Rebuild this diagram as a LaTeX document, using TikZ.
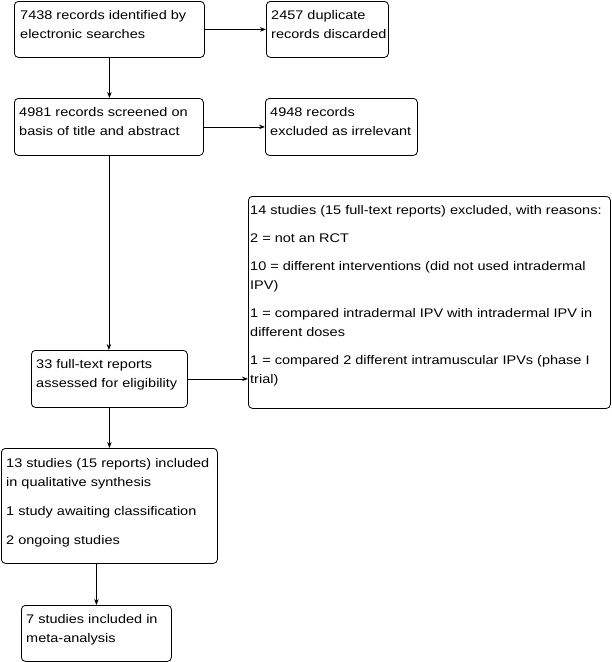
\documentclass[tikz,border=0pt]{standalone}
\usepackage{fontspec}
\setmainfont{Liberation Sans}[FakeStretch=1.16]
\usetikzlibrary{arrows.meta,calc}
\begin{document}
\begin{tikzpicture}[x=1pt,y=-1pt,
 box/.style={draw, rounded corners=4pt, line width=0.8pt, anchor=north west, inner sep=0pt},
 txt/.style={anchor=north west, align=left, inner sep=0pt, font=\fontsize{12.5}{19}\selectfont},
 arr/.style={-{Stealth[length=6pt,width=4.5pt]}, line width=0.8pt}]
\useasboundingbox (0,0) rectangle (612,662);
\node[box, minimum width=190pt, minimum height=56pt] (b1) at (14,1) {};
\node[box, minimum width=122pt, minimum height=56pt] (b2) at (266,1) {};
\node[box, minimum width=189pt, minimum height=57pt] (b3) at (14,98) {};
\node[box, minimum width=152pt, minimum height=57pt] (b4) at (265,98) {};
\node[box, minimum width=362pt, minimum height=212pt] (b5) at (248,196) {};
\node[box, minimum width=156pt, minimum height=57pt] (b6) at (31,350) {};
\node[box, minimum width=216pt, minimum height=115pt] (b7) at (1,448) {};
\node[box, minimum width=150pt, minimum height=56pt] (b8) at (21,605) {};

\node[txt] (t1) at ($(b1.north west)+(6,9)$) {7438 records identified by\\electronic searches};
\node[txt] (t2) at ($(b2.north west)+(5,9)$) {2457 duplicate\\records discarded};
\node[txt] (t3) at ($(b3.north west)+(5,9)$) {4981 records screened on\\basis of title and abstract};
\node[txt] (t4) at ($(b4.north west)+(5,9)$) {4948 records\\excluded as irrelevant};
\node[txt] (t5) at ($(b5.north west)+(2,9)$) {14 studies (15 full-text reports) excluded, with reasons:\\[9pt]
2 = not an RCT\\[9pt]
10 = different interventions (did not used intradermal\\IPV)\\[9pt]
1 = compared intradermal IPV with intradermal IPV in\\different doses\\[9pt]
1 = compared 2 different intramuscular IPVs (phase I\\trial)};
\node[txt] (t6) at ($(b6.north west)+(5,9)$) {33 full-text reports\\assessed for eligibility};
\node[txt] (t7) at ($(b7.north west)+(5,10)$) {13 studies (15 reports) included\\in qualitative synthesis\\[10pt]
1 study awaiting classification\\[10pt]
2 ongoing studies};
\node[txt] (t8) at ($(b8.north west)+(5,9)$) {7 studies included in\\meta-analysis};

\draw[arr] (b1.east) -- (b2.west);
\draw[arr] (b3.east) -- (b4.west);
\draw[arr] (b6.east) -- (b6.east -| b5.west);
\draw[arr] (b1.south) -- (b1.south |- b3.north);
\draw[arr] (b3.south) -- (b3.south |- b6.north);
\draw[arr] (b6.south) -- (b6.south |- b7.north);
\draw[arr] (b8.north |- b7.south) -- (b8.north);
\end{tikzpicture}
\end{document}
